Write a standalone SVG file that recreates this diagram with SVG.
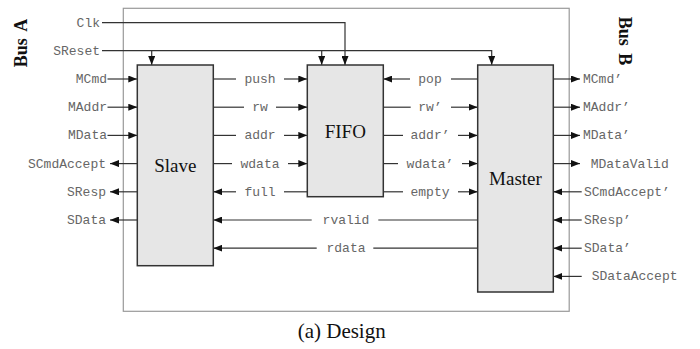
<svg xmlns="http://www.w3.org/2000/svg" width="700" height="349" viewBox="0 0 700 349">
<defs>
<marker id="arr" markerUnits="userSpaceOnUse" markerWidth="9" markerHeight="7" refX="9" refY="3.5" orient="auto">
<path d="M0,0 L9,3.5 L0,7 z" fill="#111"/>
</marker>
<style>
.sig{font-family:"Liberation Mono","Courier New",monospace;font-size:13px;fill:#666;}
.m{text-anchor:middle;}
.e{text-anchor:end;}
.blk{fill:#e6e6e6;stroke:#333;stroke-width:1.5;}
.nm{font-family:"Liberation Serif","Times New Roman",serif;font-size:19px;fill:#111;text-anchor:middle;}
.bus{font-family:"Liberation Serif","Times New Roman",serif;font-size:18px;font-weight:bold;fill:#111;text-anchor:middle;word-spacing:3px;}
.ln{stroke:#333;stroke-width:1.2;fill:none;}
.a{marker-end:url(#arr);}
</style>
</defs>
<rect x="0" y="0" width="700" height="349" fill="#fff"/>
<rect id="outer" x="123.3" y="8.3" width="445.9" height="303" fill="none" stroke="#999" stroke-width="1.2"/>

<g id="connectors">
<!-- clock and reset -->
<path class="ln a" d="M102,22.7 H345 V65"/>
<path class="ln a" d="M102,50.7 H491.7 V65"/>
<path class="ln a" d="M151.7,50.7 V65"/>
<path class="ln a" d="M321.7,50.7 V65"/>
<!-- left bus A -->
<path class="ln a" d="M107.5,79 H137.3"/>
<path class="ln a" d="M107.5,107.2 H137.3"/>
<path class="ln a" d="M107.5,135.4 H137.3"/>
<path class="ln a" d="M137.3,163.6 H110"/>
<path class="ln a" d="M137.3,191.8 H110"/>
<path class="ln a" d="M137.3,220 H110"/>
<!-- slave to fifo -->
<path class="ln" d="M213.3,79 H236"/><path class="ln a" d="M284,79 H307.3"/>
<path class="ln" d="M213.3,107.2 H244"/><path class="ln a" d="M276,107.2 H307.3"/>
<path class="ln" d="M213.3,135.4 H236"/><path class="ln a" d="M284,135.4 H307.3"/>
<path class="ln" d="M213.3,163.6 H232"/><path class="ln a" d="M288,163.6 H307.3"/>
<path class="ln a" d="M236,191.8 H213.3"/><path class="ln" d="M284,191.8 H307.3"/>
<!-- fifo to master -->
<path class="ln a" d="M410,79 H383.3"/><path class="ln" d="M451,79 H477.7"/>
<path class="ln" d="M383.3,107.2 H410.7"/><path class="ln a" d="M451,107.2 H477.7"/>
<path class="ln" d="M383.3,135.4 H403"/><path class="ln a" d="M458,135.4 H477.7"/>
<path class="ln" d="M383.3,163.6 H398"/><path class="ln a" d="M462,163.6 H477.7"/>
<path class="ln" d="M383.3,191.8 H403"/><path class="ln a" d="M458,191.8 H477.7"/>
<!-- master to slave -->
<path class="ln a" d="M311.7,220 H213.3"/><path class="ln" d="M378.3,220 H477.7"/>
<path class="ln a" d="M316.7,248.2 H213.3"/><path class="ln" d="M373.3,248.2 H477.7"/>
<!-- right bus B -->
<path class="ln a" d="M553.3,79 H580"/>
<path class="ln a" d="M553.3,107.2 H580"/>
<path class="ln a" d="M553.3,135.4 H580"/>
<path class="ln a" d="M553.3,163.6 H580"/>
<path class="ln a" d="M581.7,191.8 H553.3"/>
<path class="ln a" d="M581.7,220 H553.3"/>
<path class="ln a" d="M581.7,248.2 H553.3"/>
<path class="ln a" d="M581.7,276.4 H553.3"/>
</g>

<g id="labels">
<text class="sig e" x="100" y="26.7">Clk</text>
<text class="sig e" x="100" y="54.7">SReset</text>
<text class="sig e" x="107" y="83">MCmd</text>
<text class="sig e" x="107" y="111.2">MAddr</text>
<text class="sig e" x="107" y="139.4">MData</text>
<text class="sig e" x="106" y="167.6">SCmdAccept</text>
<text class="sig e" x="106" y="195.8">SResp</text>
<text class="sig e" x="106" y="224">SData</text>

<text class="sig m" x="260" y="83">push</text>
<text class="sig m" x="260" y="111.2">rw</text>
<text class="sig m" x="260" y="139.4">addr</text>
<text class="sig m" x="260" y="167.6">wdata</text>
<text class="sig m" x="260" y="195.8">full</text>

<text class="sig m" x="430" y="83">pop</text>
<text class="sig m" x="430" y="111.2">rw’</text>
<text class="sig m" x="430" y="139.4">addr’</text>
<text class="sig m" x="430" y="167.6">wdata’</text>
<text class="sig m" x="430" y="195.8">empty</text>

<text class="sig m" x="346" y="224">rvalid</text>
<text class="sig m" x="346" y="252.2">rdata</text>

<text class="sig" x="583" y="83">MCmd’</text>
<text class="sig" x="583" y="111.2">MAddr’</text>
<text class="sig" x="583" y="139.4">MData’</text>
<text class="sig" x="590.7" y="167.6">MDataValid</text>
<text class="sig" x="584" y="195.8">SCmdAccept’</text>
<text class="sig" x="584" y="224">SResp’</text>
<text class="sig" x="584" y="252.2">SData’</text>
<text class="sig" x="591.7" y="280.4">SDataAccept</text>

<text class="bus" transform="translate(27,43) rotate(-90)">Bus A</text>
<text class="bus" transform="translate(619,41) rotate(90)">Bus B</text>
</g>

<g id="slave">
<rect class="blk" x="137.3" y="65" width="76" height="200.7"/>
<text class="nm" x="175.3" y="171.5">Slave</text>
</g>
<g id="fifo">
<rect class="blk" x="307.3" y="65" width="76" height="131.7"/>
<text class="nm" x="345.3" y="138">FIFO</text>
</g>
<g id="master">
<rect class="blk" x="477.7" y="65" width="75.6" height="227"/>
<text class="nm" x="515.5" y="185">Master</text>
</g>

<text x="341.7" y="338" font-family="'Liberation Serif','Times New Roman',serif" font-size="21" fill="#111" text-anchor="middle">(a) Design</text>
</svg>
